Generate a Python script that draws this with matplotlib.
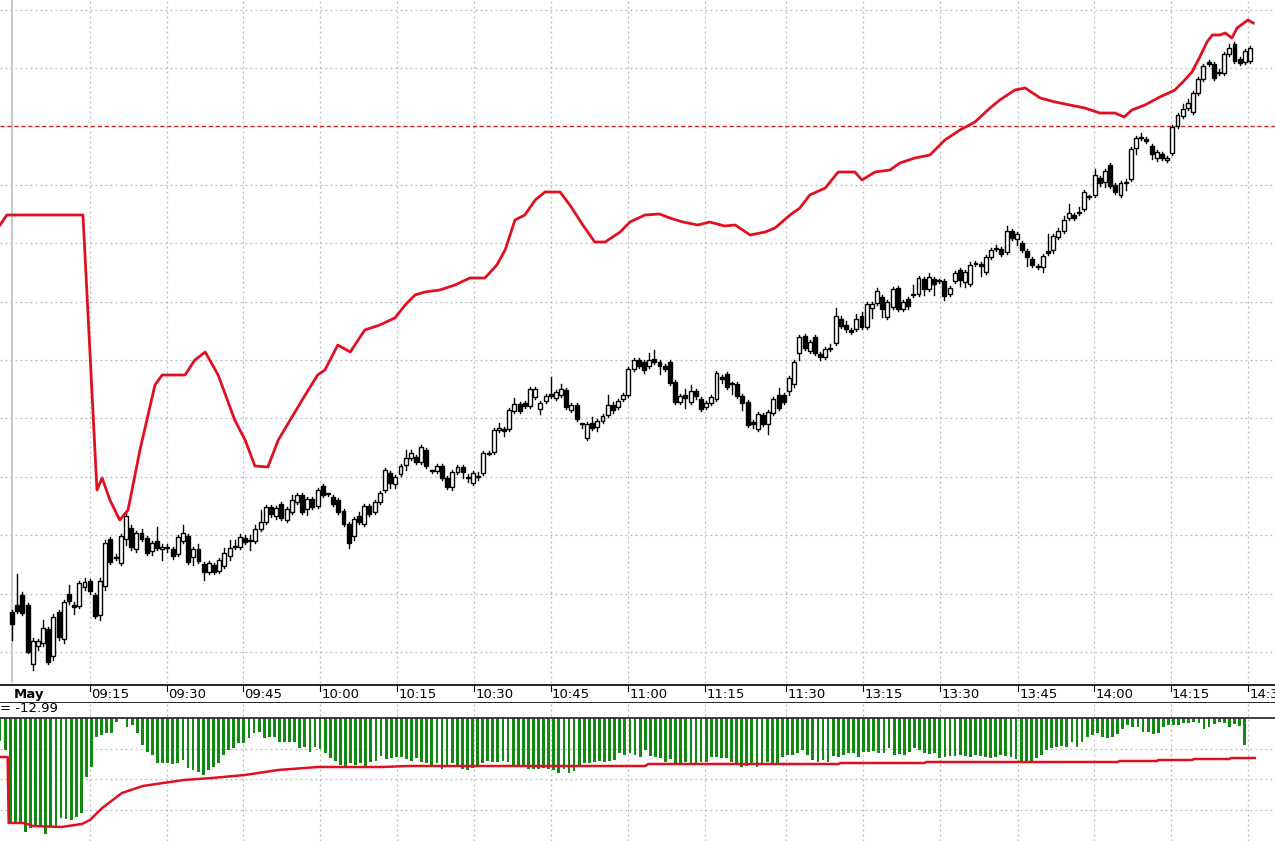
import matplotlib
matplotlib.use("Agg")
import matplotlib.pyplot as plt
from matplotlib.patches import Rectangle

# ---------------- data ----------------
opens = [88,95,105,95,36,54,57,71,44,88,61,106,95,94,113,119,105,85,114,161,142,137,161,172,151,167,162,149,159,151,
         152,151,146,159,164,143,151,136,128,135,129,134,144,153,153,162,159,159,171,178,193,184,196,180,188,198,205,191,201,194,
         214,206,203,200,189,176,164,184,176,194,188,198,210,227,216,226,235,242,243,238,250,229,229,234,222,213,228,233,222,217,
         224,227,247,248,270,271,271,289,296,297,294,303,291,299,306,302,305,310,290,295,276,262,277,273,279,285,295,293,301,305,
         331,340,338,334,341,338,334,338,318,298,305,298,309,301,293,297,301,323,326,317,316,304,298,278,271,285,276,287,305,305,
         309,316,347,364,349,363,346,343,352,357,381,375,370,371,384,373,392,397,403,383,393,412,391,401,406,406,421,411,421,419,
         419,406,419,430,418,416,437,436,428,443,451,451,448,469,461,457,449,441,434,433,449,450,463,469,482,485,487,491,503,505,
         522,518,535,515,505,517,521,552,562,561,554,542,546,540,547,574,584,592,588,607,621,638,636,627,627,646,656,641,638,639]
closes = [76,89,87,48,59,59,72,38,83,63,98,99,93,117,118,109,84,119,157,138,142,164,184,153,167,161,147,157,152,153,
          153,144,163,167,138,151,139,128,137,128,140,147,152,154,163,158,159,171,178,193,186,192,182,191,200,205,188,201,193,210,
          205,206,196,188,176,157,181,178,194,186,198,207,230,217,223,234,242,247,238,253,234,229,234,222,213,228,233,228,223,227,
          223,247,246,270,272,269,290,296,289,294,311,311,297,304,304,308,311,293,295,281,276,276,272,279,284,295,290,299,305,331,
          340,334,330,340,338,334,331,317,298,304,302,309,304,291,297,303,327,321,313,316,304,297,275,276,286,276,288,301,292,298,
          322,338,363,352,358,347,343,351,351,384,374,371,368,381,373,396,396,409,391,398,411,391,398,394,405,422,411,423,416,419,
          404,412,427,420,428,435,436,434,443,450,452,446,469,462,466,450,443,435,433,444,447,464,469,480,487,482,487,508,503,525,
          517,529,514,508,517,517,551,562,562,559,546,548,542,542,573,585,591,597,607,621,634,636,622,627,646,652,639,637,649,652]
highs = [90,126,108,97,62,61,80,73,86,90,100,115,98,119,122,121,107,122,160,163,146,166,187,175,169,171,164,159,173,156,
         156,153,165,175,166,153,156,138,139,137,142,152,160,160,166,165,165,175,190,195,195,194,198,193,205,207,207,203,203,212,
         216,206,205,202,191,178,183,188,196,196,200,209,232,229,225,236,250,250,245,255,252,230,236,236,224,230,235,235,226,229,
         228,249,249,272,277,273,292,302,298,299,313,313,299,306,323,310,316,312,297,297,276,278,283,281,286,305,298,301,307,333,
         342,342,340,347,350,340,336,340,320,306,311,315,311,303,299,305,329,325,328,318,318,306,300,280,288,287,290,303,312,307,
         324,340,365,366,360,365,348,353,356,392,384,379,372,386,388,398,398,412,405,400,413,414,400,403,415,424,423,427,423,421,
         421,414,429,432,430,438,439,438,445,452,455,453,474,471,468,459,451,443,436,446,466,466,472,484,496,487,493,510,505,531,
         524,531,537,517,519,521,553,564,567,563,556,550,548,544,575,587,596,601,609,623,636,640,638,631,648,656,658,643,651,654]
lows = [60,87,85,47,30,50,54,36,40,60,57,96,86,92,110,106,82,80,110,136,140,135,155,150,148,159,145,145,150,140,
        148,141,144,157,136,135,137,120,126,126,127,132,140,151,151,156,150,157,169,176,183,181,180,178,186,196,186,185,191,192,
        203,204,194,186,174,152,160,176,174,184,186,196,208,212,212,224,230,240,236,236,232,227,227,220,211,210,226,222,218,215,
        220,225,245,246,268,264,269,287,287,292,292,301,286,297,302,300,303,291,288,279,272,260,270,269,277,283,287,291,299,303,
        329,332,327,332,336,326,329,315,296,296,292,296,301,289,291,295,299,317,311,306,302,290,273,272,269,274,266,285,290,296,
        305,313,340,350,347,345,340,341,349,355,372,368,366,369,371,371,382,395,383,381,391,389,389,391,403,404,405,409,405,417,
        400,404,417,414,413,414,434,424,426,441,449,444,446,460,455,448,434,433,431,428,445,447,461,467,480,480,485,489,501,503,
        514,513,512,506,503,510,519,546,560,557,541,539,540,538,545,572,582,590,586,605,619,634,620,625,625,644,637,635,636,637]

# upper red indicator (bar index, value)
ind_idx = [-2.3,-1.0,13.7,16.4,17.4,18.9,20.8,22.4,24.7,27.6,29,33.4,35.3,37.3,39.8,43,45,46.9,49.4,51.4,53.7,56.6,59,60.4,62.9,
           65.3,68.1,71,73.9,75.9,77.8,79.7,82.6,85.5,88.4,91.3,93.6,95.2,97.1,99,101,102.9,105.8,107.7,110.2,112.5,114.5,117.4,
           119.3,122.2,125,127,129.5,132.4,134.7,137.6,139.6,142.5,145.4,147.3,150.2,152.1,154,157,159.5,162.7,164.1,166.6,169.5,
           171.4,174.3,177.2,180.1,183,185.9,188.8,190.7,193.6,195.6,198.5,201.4,204.2,207.1,210,212.9,214.7,216.2,218.7,221.6,
           224.5,226.4,227.8,229.3,230.7,231.7,233.2,234.2,235.5,236.5,238.6,239.6]
ind_val = [475,485,485,210,222,200,180,190,250,315,325,325,340,348,325,280,260,234,233,260,280,305,325,330,355,
           348,370,375,382,395,405,408,410,415,422,422,435,450,480,485,500,508,508,495,475,458,458,468,
           478,485,486,482,478,475,478,474,475,465,468,472,485,492,505,512,528,528,520,528,530,
           537,542,545,560,570,578,592,600,610,612,602,598,595,592,587,587,583,590,595,603,
           610,620,628,643,658,665,665,667,662,672,680,677]
ref_level = 574

# lower panel oscillator (depth below zero line) and its signal
osc_depth = [23,32,
    105,104,104,114,110,109,109,116,109,109,100,101,102,99,95,59,49,19,17,15,15,4,1,9,7,15,27,34,37,45,45,45,46,45,42,50,52,54,57,52,49,45,37,32,30,25,25,20,15,14,20,19,19,24,24,24,24,
    30,29,34,29,31,35,40,43,47,49,45,47,45,48,44,43,38,41,40,39,39,41,43,40,44,45,47,45,51,47,45,49,51,52,50,47,45,43,44,44,43,44,49,47,47,51,51,51,50,51,52,55,51,55,53,49,45,45,44,43,44,43,42,35,37,
    35,37,39,32,38,39,40,44,41,45,45,44,45,45,44,44,39,39,40,40,44,45,49,48,45,49,45,44,45,45,39,37,37,35,32,37,42,44,42,44,38,39,37,35,35,39,34,34,33,35,35,30,37,36,37,34,30,32,35,36,35,40,39,38,38,37,38,39,37,38,39,40,39,37,38,39,41,44,45,45,40,37,32,30,29,28,29,24,29,24,19,17,15,19,20,19,16,11,7,9,9,14,14,16,15,9,7,7,7,5,5,4,5,11,9,6,4,5,9,6,8,27]
sig_idx = [-2,-0.5,-0.3,1.1,2.7,4.5,10,14.1,15.7,18.1,22,26.1,30.1,34.2,39.7,46.2,52.7,60.6,73.2,78.3,125,125.6,163,163.5,
           180,180.3,209,218,218.4,225.8,226,232.7,233,240,240.3,245]
sig_depth = [39,39,105,105,105,108,109,106,102,90,75,68,65,62,60,57,52,49,49,48,48,46,46,45,
             45,44,44,44,43,43,42,42,41,41,40,40]
osc_label = "= -12.99"

tick_pos = [15.1,29.9,44.6,59.5,74.3,89.2,104,118.9,133.8,149.4,164.3,179.2,194.2,208.9,223.7,238.6]
tick_lab = ["09:15","09:30","09:45","10:00","10:15","10:30","10:45","11:00","11:15","11:30",
            "13:15","13:30","13:45","14:00","14:15","14:30"]
date_label = "May"

# ---------------- figure ----------------
W, H = 1275, 841
fig = plt.figure(figsize=(W/100, H/100), dpi=100)
main = fig.add_axes([0, 1-683/H, 1, 683/H])
lab = fig.add_axes([0, 1-703/H, 1, 20/H])
low = fig.add_axes([0, 0, 1, 138/H])

xl_main = (-12/5.18, (W-12)/5.18)
main.set_xlim(*xl_main)
main.set_ylim(17, 700)
grid_kw = dict(color="#b8b8b8", lw=0.9, ls=(0, (1.5, 2.5)))
for k in range(12):
    yv = 48 + 58.4*k
    if abs(yv-ref_level) > 5:
        main.axhline(yv, **grid_kw, zorder=0)
for t in tick_pos:
    main.axvline(t, **grid_kw, zorder=0)
main.axvline(-0.05, color="#c8c8c8", lw=1.5, zorder=0)
main.axhline(ref_level, color="#d42020", lw=1, ls=(0, (3, 2)), zorder=1)

for i in range(len(opens)):
    o, c, h, l = opens[i], closes[i], highs[i], lows[i]
    main.plot([i, i], [l, h], color="black", lw=1, zorder=2)
    up = c >= o
    bot = min(o, c)
    ht = max(abs(c-o), 0.8)
    main.add_patch(Rectangle((i-0.38, bot), 0.76, ht, facecolor="white" if up else "black",
                             edgecolor="black", lw=1, zorder=3))
main.plot(ind_idx, ind_val, color="#e01020", lw=2, zorder=4)
for ax in (main, lab, low):
    ax.set_xticks([]); ax.set_yticks([])
    for s in ax.spines.values():
        s.set_visible(False)

# label strip
lab.set_xlim(*xl_main)
lab.set_ylim(0, 20)
lab.axhline(18, color="black", lw=1.2)
lab.axhline(0.3, color="black", lw=1.2)
for t, s in zip(tick_pos, tick_lab):
    lab.plot([t, t], [18, 12], color="black", lw=0.8)
    lab.text(t+0.25, 8.5, s, fontsize=9.5, family="DejaVu Sans", va="center", ha="left")
lab.text(0.4, 8.5, date_label, fontsize=9.5, weight="bold", va="center", ha="left")

# lower panel
xl_low = (-10.2/5.08, (W-10.2)/5.08)
low.set_xlim(*xl_low)
low.set_ylim(-123, 15)
for d in (31, 61, 92):
    low.axhline(-d, **grid_kw, zorder=0)
for t in tick_pos:
    xp = 12 + 5.18*t
    low.axvline((xp-10.2)/5.08, **grid_kw, zorder=0)
xs = [j-2 for j in range(len(osc_depth))]
low.bar(xs, [-d for d in osc_depth], width=0.55, color="#118a11", zorder=2)
low.axhline(0, color="#202020", lw=1.2, zorder=3)
low.plot(sig_idx, [-d for d in sig_depth], color="#e01020", lw=1.8, zorder=4)
low.text(-2.0, 9, osc_label, fontsize=9.5, va="center", ha="left")

fig.savefig("out.png", dpi=100)
